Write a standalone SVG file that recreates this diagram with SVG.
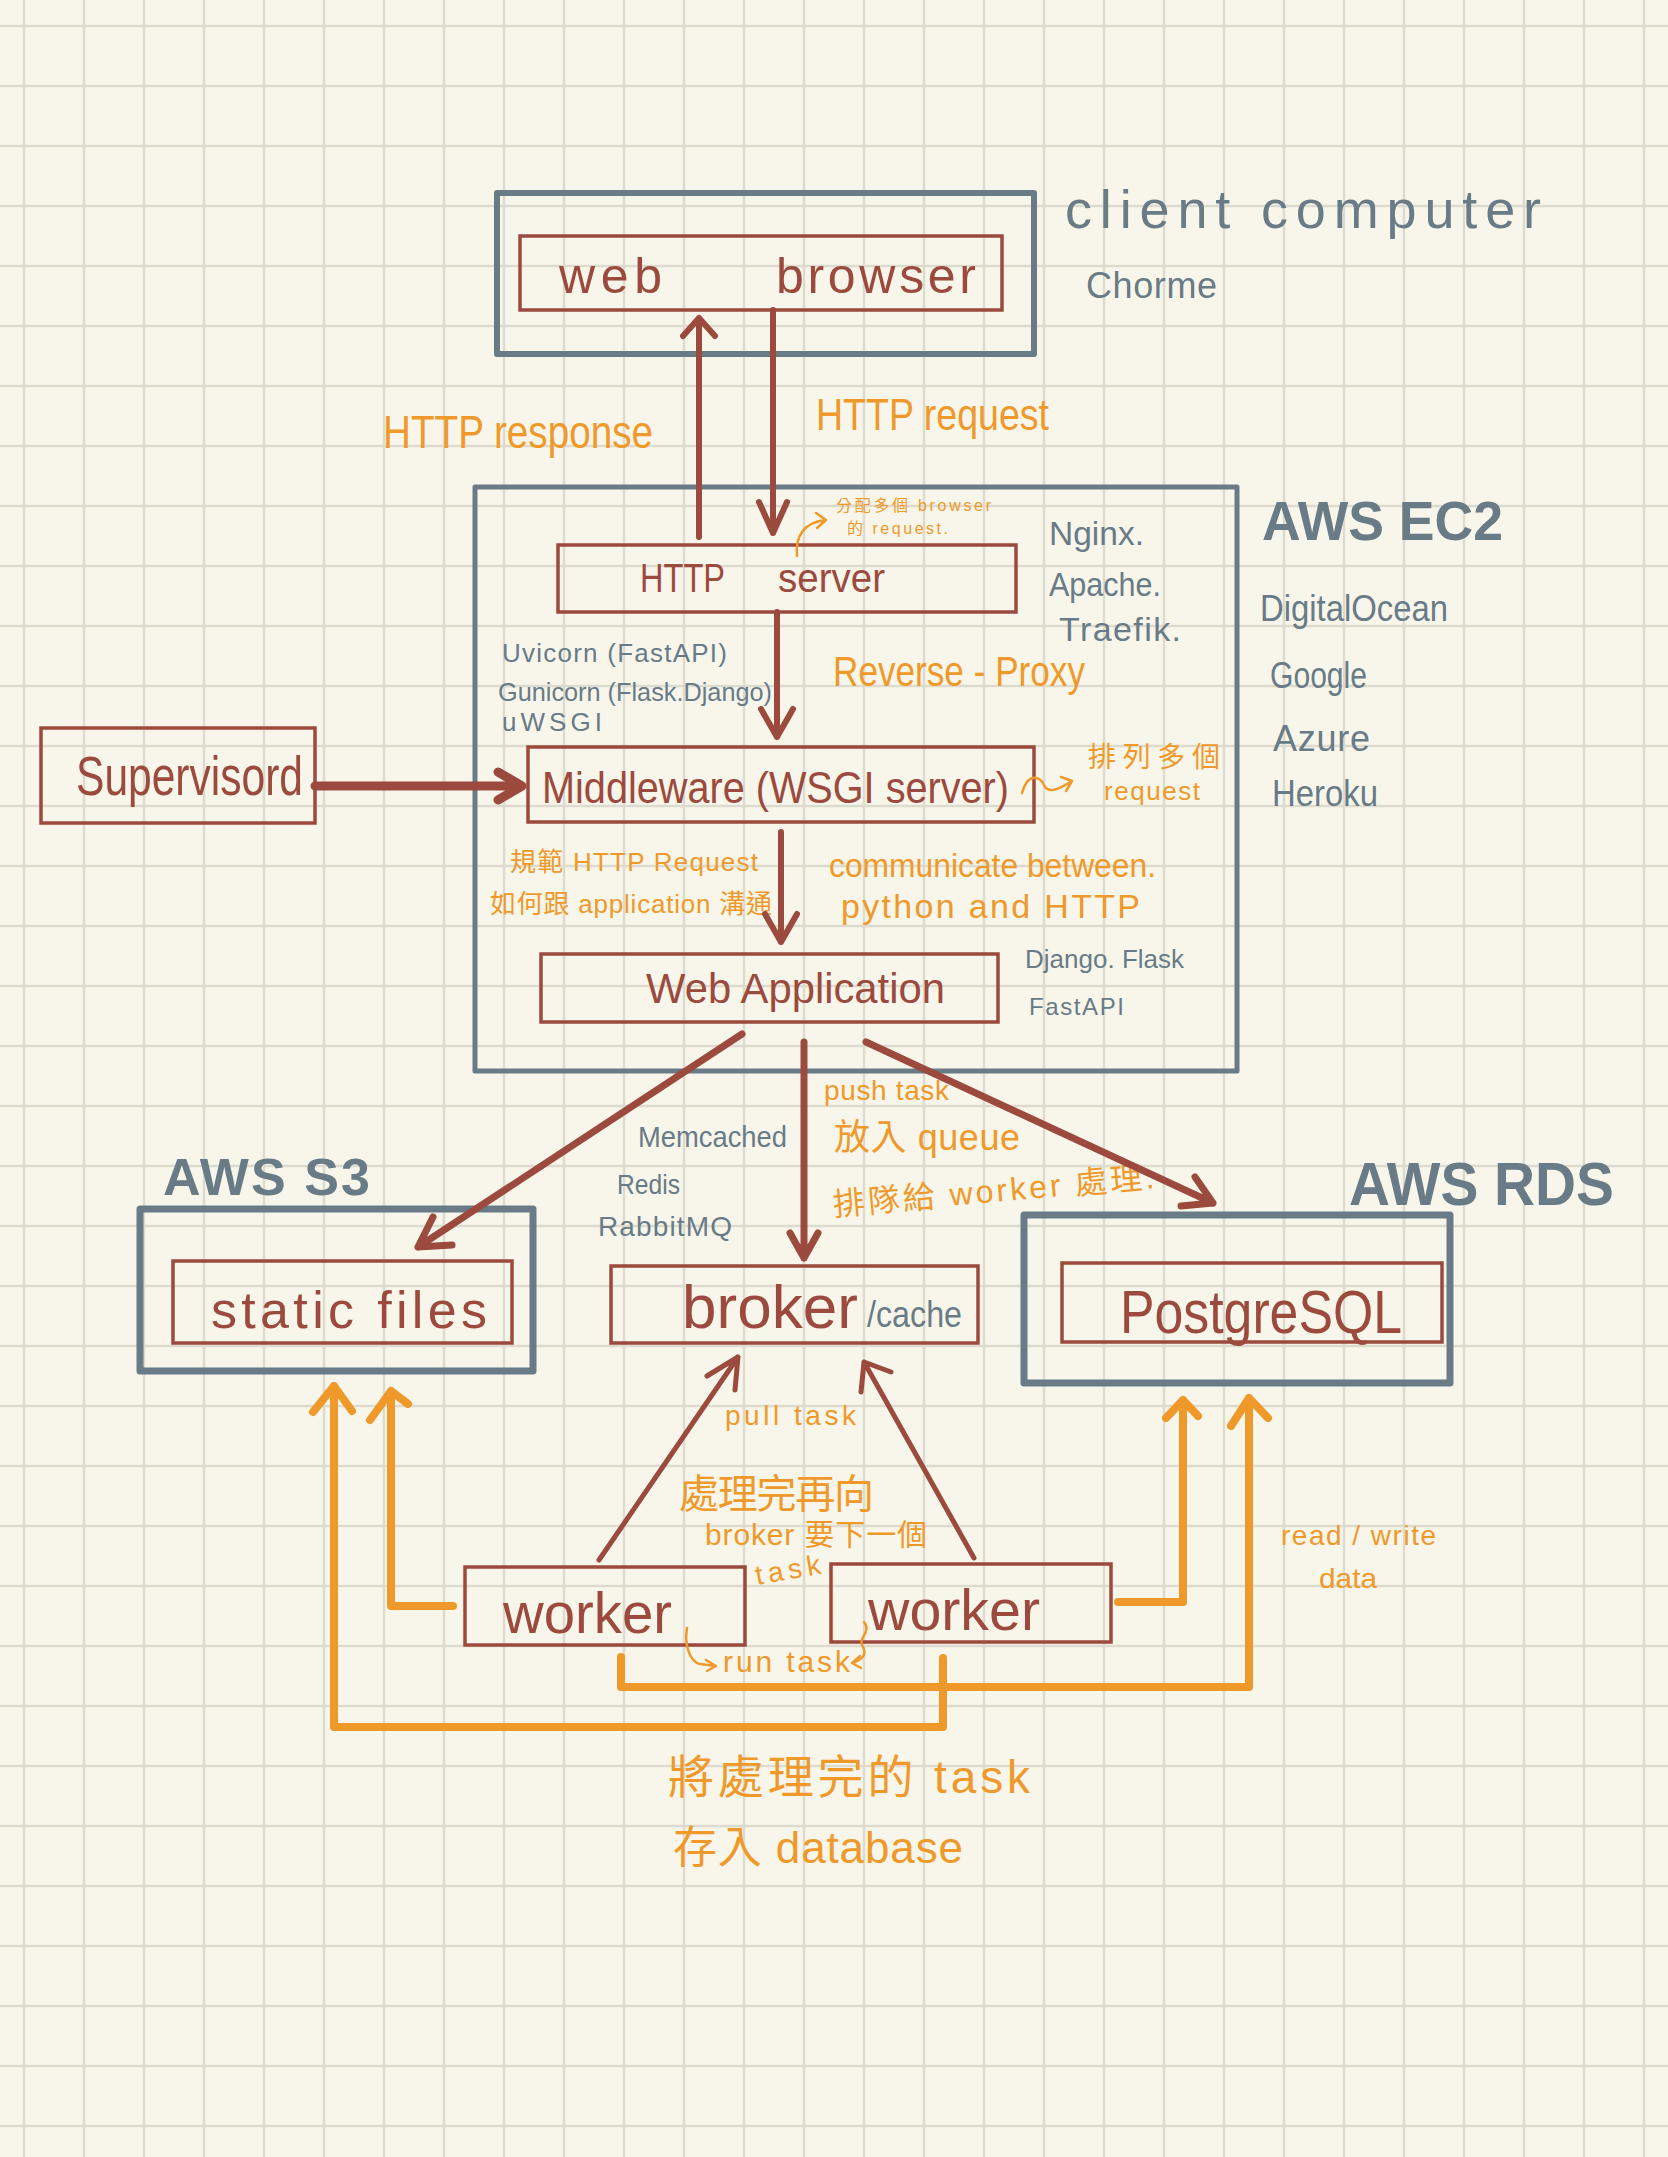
<svg xmlns="http://www.w3.org/2000/svg" width="1668" height="2157" viewBox="0 0 1668 2157">
<defs>
<pattern id="grid" x="0" y="0" width="60" height="60" patternUnits="userSpaceOnUse">
<path d="M24 0 V60 M0 26 H60" stroke="#dddacf" stroke-width="2.5" fill="none"/>
</pattern>
<style>
text{font-family:"Liberation Sans","Noto Sans CJK TC",sans-serif}
.g{fill:#687b87}
.r{fill:#9c4a3e}
.o{fill:#f0992b}
.b{font-weight:bold}
.gb{fill:none;stroke:#687b87;stroke-linejoin:round}
.rb{fill:none;stroke:#9c4a3e;stroke-width:3.5}
.ra{fill:none;stroke:#9c4a3e;stroke-linecap:round;stroke-linejoin:round}
.oa{fill:none;stroke:#f0992b;stroke-width:8;stroke-linecap:round;stroke-linejoin:round}
.ot{fill:none;stroke:#f0992b;stroke-width:2.5;stroke-linecap:round;stroke-linejoin:round}
</style>
</defs>
<rect width="1668" height="2157" fill="#f8f6ea"/>
<rect width="1668" height="2157" fill="url(#grid)"/>

<g id="client-computer">
<rect class="gb" x="497" y="193" width="537" height="161" stroke-width="6"/>
<text class="g" x="1065" y="228" font-size="54" textLength="476">client computer</text>
<text class="g" x="1086" y="298" font-size="36" textLength="131">Chorme</text>
</g>
<g id="web-browser">
<rect class="rb" x="520" y="236" width="482" height="74" stroke-width="3"/>
<text class="r" x="559" y="293" font-size="50" textLength="103">web</text>
<text class="r" x="776" y="293" font-size="50" textLength="200">browser</text>
</g>

<g id="aws-ec2">
<rect class="gb" x="475" y="487" width="762" height="584" stroke-width="5"/>
<text class="g b" x="1262" y="540" font-size="56" textLength="241" lengthAdjust="spacingAndGlyphs">AWS EC2</text>
<text class="g" x="1260" y="621" font-size="36" textLength="188" lengthAdjust="spacingAndGlyphs">DigitalOcean</text>
<text class="g" x="1270" y="688" font-size="36" textLength="97" lengthAdjust="spacingAndGlyphs">Google</text>
<text class="g" x="1273" y="751" font-size="36" textLength="97">Azure</text>
<text class="g" x="1272" y="806" font-size="36" textLength="106" lengthAdjust="spacingAndGlyphs">Heroku</text>
</g>

<g id="http-server">
<rect class="rb" x="558" y="545" width="458" height="67"/>
<text class="r" x="640" y="592" font-size="40" textLength="85" lengthAdjust="spacingAndGlyphs">HTTP</text>
<text class="r" x="778" y="592" font-size="40" textLength="107" lengthAdjust="spacingAndGlyphs">server</text>
<text class="g" x="1049" y="545" font-size="34" textLength="95" lengthAdjust="spacingAndGlyphs">Nginx.</text>
<text class="g" x="1049" y="596" font-size="34" textLength="112" lengthAdjust="spacingAndGlyphs">Apache.</text>
<text class="g" x="1059" y="641" font-size="34" textLength="122">Traefik.</text>
<text class="o" x="836" y="511" font-size="16" textLength="155">分配多個 browser</text>
<text class="o" x="847" y="534" font-size="16" textLength="101">的 request.</text>
<text class="o" x="833" y="686" font-size="42" textLength="252" lengthAdjust="spacingAndGlyphs">Reverse - Proxy</text>
</g>

<g id="supervisord">
<rect class="rb" x="41" y="728" width="274" height="95" stroke-width="4"/>
<text class="r" x="76" y="795" font-size="56" textLength="227" lengthAdjust="spacingAndGlyphs">Supervisord</text>
</g>

<g id="middleware">
<rect class="rb" x="528" y="747" width="506" height="75" stroke-width="5"/>
<text class="r" x="542" y="803" font-size="44" textLength="467" lengthAdjust="spacingAndGlyphs">Middleware (WSGI server)</text>
<text class="g" x="502" y="662" font-size="26" textLength="225">Uvicorn (FastAPI)</text>
<text class="g" x="498" y="701" font-size="26" textLength="274" lengthAdjust="spacingAndGlyphs">Gunicorn (Flask.Django)</text>
<text class="g" x="502" y="731" font-size="26" textLength="100">uWSGI</text>
<text class="o" x="1088" y="767" font-size="28" textLength="132">排列多個</text>
<text class="o" x="1104" y="800" font-size="26" textLength="96">request</text>
<text class="o" x="510" y="871" font-size="26" textLength="248">規範 HTTP Request</text>
<text class="o" x="490" y="913" font-size="26" textLength="282">如何跟 application 溝通</text>
<text class="o" x="829" y="877" font-size="34" textLength="327" lengthAdjust="spacingAndGlyphs">communicate between.</text>
<text class="o" x="841" y="918" font-size="34" textLength="299">python and HTTP</text>
</g>

<g id="web-application">
<rect class="rb" x="541" y="954" width="457" height="68" stroke-width="4"/>
<text class="r" x="646" y="1003" font-size="42" textLength="299" lengthAdjust="spacingAndGlyphs">Web Application</text>
<text class="g" x="1025" y="968" font-size="26" textLength="159">Django. Flask</text>
<text class="g" x="1029" y="1015" font-size="24" textLength="95">FastAPI</text>
</g>

<g id="aws-s3">
<rect class="gb" x="140" y="1209" width="393" height="162" stroke-width="7"/>
<text class="g b" x="163" y="1195" font-size="52" textLength="207">AWS S3</text>
</g>
<g id="static-files">
<rect class="rb" x="173" y="1261" width="339" height="82" stroke-width="3"/>
<text class="r" x="211" y="1328" font-size="52" textLength="276">static files</text>
</g>

<g id="broker-cache">
<rect class="rb" x="611" y="1266" width="367" height="77" stroke-width="3"/>
<text class="r" x="682" y="1328" font-size="62" textLength="176">broker</text>
<text class="g" x="867" y="1327" font-size="36" textLength="95" lengthAdjust="spacingAndGlyphs">/cache</text>
<text class="g" x="638" y="1147" font-size="30" textLength="149" lengthAdjust="spacingAndGlyphs">Memcached</text>
<text class="g" x="617" y="1194" font-size="28" textLength="63" lengthAdjust="spacingAndGlyphs">Redis</text>
<text class="g" x="598" y="1236" font-size="28" textLength="134">RabbitMQ</text>
<text class="o" x="824" y="1100" font-size="28" textLength="125">push task</text>
<text class="o" x="834" y="1150" font-size="36" textLength="186">放入 queue</text>
<text class="o" x="834" y="1216" font-size="32" textLength="322" transform="rotate(-5 834 1216)">排隊給 worker 處理.</text>
</g>

<g id="aws-rds">
<rect class="gb" x="1024" y="1215" width="426" height="168" stroke-width="7"/>
<text class="g b" x="1349" y="1205" font-size="62" textLength="265" lengthAdjust="spacingAndGlyphs">AWS RDS</text>
</g>
<g id="postgresql">
<rect class="rb" x="1062" y="1263" width="380" height="79"/>
<text class="r" x="1120" y="1333" font-size="62" textLength="282" lengthAdjust="spacingAndGlyphs">PostgreSQL</text>
</g>

<g id="worker-1">
<rect class="rb" x="465" y="1567" width="280" height="78"/>
<text class="r" x="503" y="1633" font-size="58" textLength="169" lengthAdjust="spacingAndGlyphs">worker</text>
</g>
<g id="worker-2">
<rect class="rb" x="831" y="1564" width="280" height="78"/>
<text class="r" x="868" y="1630" font-size="58" textLength="172" lengthAdjust="spacingAndGlyphs">worker</text>
</g>

<g id="labels">
<text class="o" x="383" y="448" font-size="46" textLength="270" lengthAdjust="spacingAndGlyphs">HTTP response</text>
<text class="o" x="816" y="430" font-size="44" textLength="233" lengthAdjust="spacingAndGlyphs">HTTP request</text>
<text class="o" x="725" y="1425" font-size="28" textLength="131">pull task</text>
<text class="o" x="679" y="1508" font-size="40" textLength="195">處理完再向</text>
<text class="o" x="705" y="1545" font-size="30" textLength="222">broker 要下一個</text>
<text class="o" x="757" y="1585" font-size="28" textLength="66" transform="rotate(-10 757 1585)">task</text>
<text class="o" x="723" y="1672" font-size="30" textLength="127">run task</text>
<text class="o" x="1281" y="1545" font-size="28" textLength="155">read / write</text>
<text class="o" x="1319" y="1588" font-size="28" textLength="58" lengthAdjust="spacingAndGlyphs">data</text>
<text class="o" x="668" y="1793" font-size="46" textLength="362">將處理完的 task</text>
<text class="o" x="673" y="1863" font-size="44" textLength="290">存入 database</text>
</g>

<g id="connectors">
<path class="ra" stroke-width="6" d="M699 537 V318 M683 336 L699 318 L715 336"/>
<path class="ra" stroke-width="6" d="M773 310 V533 M759 502 L773 533 L787 502"/>
<path class="ra" stroke-width="6" d="M777 612 V737 M761 709 L777 737 L793 709"/>
<path class="ra" stroke-width="9" d="M315 786 H522 M498 772 L522 786 L498 800"/>
<path class="ra" stroke-width="6" d="M781 832 V942 M765 914 L781 942 L797 914"/>
<path class="ra" stroke-width="7" d="M742 1034 L418 1247 M452 1245 L418 1247 L433 1217"/>
<path class="ra" stroke-width="7" d="M804 1042 V1258 M790 1233 L804 1258 L818 1233"/>
<path class="ra" stroke-width="7" d="M866 1042 L1213 1203 M1181 1206 L1213 1203 L1195 1177"/>
<path class="ra" stroke-width="5" d="M599 1560 L738 1357 M735 1390 L738 1357 L707 1376"/>
<path class="ra" stroke-width="5" d="M974 1558 L864 1362 M891 1372 L864 1362 L861 1392"/>
<path class="oa" d="M943 1658 V1727 H334 V1386 M313 1412 L334 1386 L352 1411"/>
<path class="oa" d="M453 1606 H391 V1391 M370 1420 L391 1391 L408 1404"/>
<path class="oa" d="M621 1657 V1687 H1249 V1398 M1231 1426 L1249 1398 L1268 1418"/>
<path class="oa" d="M1118 1602 H1183 V1400 M1166 1418 L1183 1400 L1198 1416"/>
<path class="ot" d="M797 556 C795 535 805 522 826 520 M816 513 L826 520 L817 528"/>
<path class="ot" d="M1022 793 C1028 772 1040 776 1044 785 C1048 794 1058 790 1072 781 M1061 777 L1072 781 L1066 791"/>
<path class="ot" d="M687 1628 C684 1645 690 1662 700 1664 L716 1666 M706 1660 L716 1666 L707 1671"/>
<path class="ot" d="M864 1622 C872 1632 858 1638 862 1645 C868 1655 862 1660 852 1663 M860 1656 L852 1663 L861 1668"/>
</g>
</svg>
